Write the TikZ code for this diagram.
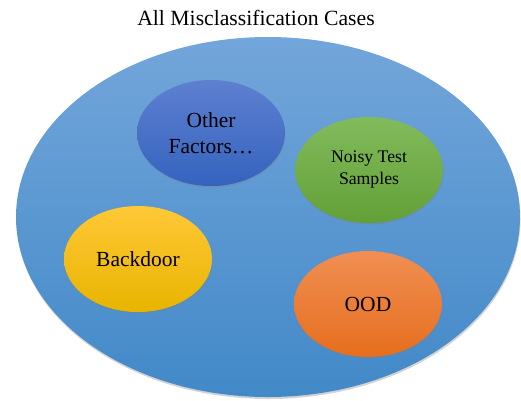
\documentclass[tikz,border=0pt]{standalone}
\usepackage{fontspec}
\setmainfont{Liberation Serif}
\usepackage{xcolor}
\usetikzlibrary{shapes.geometric}
\usetikzlibrary{shadows}
\definecolor{alltop}{RGB}{115,166,218}
\definecolor{allbot}{RGB}{66,137,200}
\definecolor{othtop}{RGB}{94,128,208}
\definecolor{othbot}{RGB}{52,99,190}
\definecolor{noitop}{RGB}{130,187,92}
\definecolor{noibot}{RGB}{98,160,55}
\definecolor{bdtop}{RGB}{255,200,55}
\definecolor{bdbot}{RGB}{232,180,0}
\definecolor{oodtop}{RGB}{240,142,82}
\definecolor{oodbot}{RGB}{230,110,30}
\tikzstyle{allset}=[ellipse,minimum width=504pt,minimum height=360pt,inner sep=0pt,drop shadow={shadow xshift=0.5pt,shadow yshift=-2pt,opacity=0.35}]
\tikzstyle{subset}=[ellipse,minimum width=148pt,minimum height=106pt,inner sep=0pt,align=center,drop shadow={shadow xshift=0.5pt,shadow yshift=-1.5pt,opacity=0.35}]
\tikzset{ttl/.style={font=\fontsize{21.7}{26}\selectfont}}
\newcommand{\bigtxt}{\fontsize{21.5}{26}\selectfont}
\newcommand{\smltxt}{\fontsize{17.7}{22}\selectfont}

\begin{document}
\begin{tikzpicture}[x=1pt,y=-1pt]

  \useasboundingbox (0,0) rectangle (521,400);

  \node[ttl, anchor=base] (title) at (256, 25) {All Misclassification Cases};

  \node[allset, top color=alltop, bottom color=allbot] (all) at (268, 217) {};

  \foreach \x/\y/\name/\tc/\bc/\fs/\label in {211/133/other/othtop/othbot/\bigtxt/{Other\\Factors…},
        369/170/noisy/noitop/noibot/\smltxt/{Noisy Test\\Samples},
        138/259/backdoor/bdtop/bdbot/\bigtxt/{Backdoor},
        368/304/ood/oodtop/oodbot/\bigtxt/{OOD}}
          \node[subset, top color=\tc, bottom color=\bc, font=\fs] (\name) at (\x, \y) {\label};

\end{tikzpicture}
\end{document}
